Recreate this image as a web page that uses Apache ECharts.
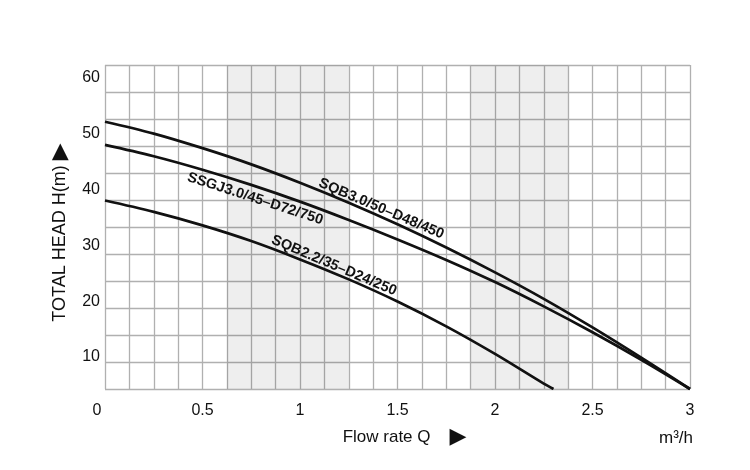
<!DOCTYPE html>
<html><head><meta charset="utf-8">
<script src="https://cdn.jsdelivr.net/npm/echarts@6/dist/echarts.min.js"></script>
<style>html,body{margin:0;padding:0;background:#fff}#c{width:750px;height:470px}</style>
</head><body><div id="c"></div>
<script>
// ---- data ----
const flowQ = [0, 0.25, 0.5, 0.75, 1.0, 1.25, 1.5, 1.75, 2.0, 2.25, 2.5, 2.75, 3.0];
const headSQB30 = [49.5, 47.3, 44.6, 41.6, 38.2, 34.5, 30.5, 26.2, 21.6, 16.7, 11.4, 5.8, 0];
const headSSGJ30 = [45.2, 43.1, 40.6, 37.8, 34.7, 31.3, 27.7, 23.9, 19.8, 15.3, 10.5, 5.4, 0];
const flowQ22 = [0, 0.25, 0.5, 0.75, 1.0, 1.25, 1.5, 1.75, 2.0, 2.25, 2.3];
const headSQB22 = [34.9, 32.8, 30.3, 27.4, 24.0, 20.3, 16.2, 11.6, 6.5, 1.0, 0];
const seriesNames = ['SQB3.0/50–D48/450', 'SSGJ3.0/45–D72/750', 'SQB2.2/35–D24/250'];
const xTickValues = [0, 0.5, 1, 1.5, 2, 2.5, 3];
const xTickLabels = ['0', '0.5', '1', '1.5', '2', '2.5', '3'];
const yTickValues = [10, 20, 30, 40, 50, 60];
const shadedBands = [[0.625, 1.25], [1.875, 2.375]];
const xName = 'Flow rate Q';
const yName = 'TOTAL HEAD H(m)';
const unitText = 'm³/h';

// ---- chart ----
const chart = echarts.init(document.getElementById('c'), null, {renderer: 'canvas'});
const FONT = 'Liberation Sans, Arial, Helvetica, sans-serif';
const gridLine = {show: true, lineStyle: {color: '#b0b0b0', width: 1.3}};
const pairs = (xs, ys) => xs.map((x, i) => [x, ys[i]]);
function curveLabel(xs, ys, idx, name, rot, off) {
  return {
    silent: true,
    symbol: 'circle', symbolSize: 1,
    itemStyle: {color: 'rgba(0,0,0,0)'},
    label: {show: true, position: 'inside', formatter: name, rotate: rot, offset: off,
      fontFamily: FONT, fontWeight: 'bold', fontSize: 14.5, color: '#111'},
    data: [{coord: [xs[idx], ys[idx]]}]
  };
}
const lineBase = {type: 'line', smooth: 0.35, showSymbol: false, symbol: 'none', silent: true,
  lineStyle: {color: '#111', width: 2.7}, xAxisIndex: 0, yAxisIndex: 0};

chart.setOption({
  animation: false,
  backgroundColor: '#fff',
  textStyle: {fontFamily: FONT},
  title: {text: unitText, left: 654, top: 425,
    textStyle: {fontFamily: FONT, fontSize: 17, fontWeight: 'normal', color: '#111'}},
  grid: {left: 105, right: 60, top: 65, bottom: 81},
  xAxis: [{
    type: 'value', min: 0, max: 3, interval: 0.125,
    axisLine: {show: false}, axisTick: {show: false},
    splitLine: gridLine,
    axisLabel: {show: true, margin: 14, fontSize: 16, color: '#111', fontFamily: FONT,
      showMinLabel: true, showMaxLabel: true,
      formatter: function (v) {
        for (let i = 0; i < xTickValues.length; i++) {
          if (Math.abs(xTickValues[i] - v) < 1e-6) return i === 0 ? '{z|' + xTickLabels[i] + '}' : xTickLabels[i];
        }
        return '';
      },
      rich: {z: {fontSize: 16, color: '#111', fontFamily: FONT, padding: [0, 16, 0, 0]}}
    },
    name: xName + '    {t|▶}', nameLocation: 'middle', nameGap: 37,
    nameTextStyle: {fontSize: 17, color: '#111', fontFamily: FONT, padding: [0, 0, 0, 14],
      rich: {t: {fontSize: 22, fontFamily: 'DejaVu Sans', color: '#111'}}}
  }],
  yAxis: [{
    type: 'value', min: 0, max: 60, interval: 5,
    axisLine: {show: false}, axisTick: {show: false}, axisLabel: {show: false},
    splitLine: gridLine
  }, {
    type: 'value', min: 4.27, max: 62.33, position: 'left',
    axisLine: {show: false}, axisTick: {show: false}, splitLine: {show: false},
    axisLabel: {show: true, customValues: yTickValues, margin: 5, fontSize: 16, color: '#111', fontFamily: FONT},
    name: yName + ' {t|▶}', nameLocation: 'middle', nameRotate: 90, nameGap: 34,
    nameTextStyle: {fontSize: 18, color: '#111', fontFamily: FONT, padding: [0, 11, 0, 0],
      rich: {t: {fontSize: 22, fontFamily: 'DejaVu Sans', color: '#111'}}}
  }],
  series: [
    Object.assign({}, lineBase, {
      name: seriesNames[0], data: pairs(flowQ, headSQB30),
      markArea: {silent: true, itemStyle: {color: 'rgba(0,0,0,0.068)'},
        data: shadedBands.map(b => [{xAxis: b[0]}, {xAxis: b[1]}])},
      markPoint: curveLabel(flowQ, headSQB30, 6, seriesNames[0], -23, [-21, -8])
    }),
    Object.assign({}, lineBase, {
      name: seriesNames[1], data: pairs(flowQ, headSSGJ30),
      markPoint: curveLabel(flowQ, headSSGJ30, 3, seriesNames[1], -18, [8, 12])
    }),
    Object.assign({}, lineBase, {
      name: seriesNames[2], data: pairs(flowQ22, headSQB22),
      markPoint: curveLabel(flowQ22, headSQB22, 5, seriesNames[2], -23, [-19, -7])
    })
  ]
});
</script>
</body></html>
